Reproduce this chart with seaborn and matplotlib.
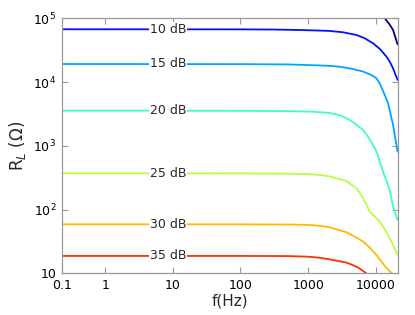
import matplotlib
matplotlib.use('Agg')
import matplotlib.pyplot as plt
import seaborn as sns

# contour levels (dB) and the curves: f (Hz) -> R_L (ohm)
levels = [5, 10, 15, 20, 25, 30, 35]

f05 = [12500, 13600, 16000, 18000, 21000]
r05 = [1.15e5, 1.0e5, 8.0e4, 6.56e4, 3.9e4]

f10 = [0.1, 100, 300, 750, 2000, 3280, 5180, 6870, 9120, 11500, 14400, 16100, 18000, 21000]
r10 = [67300, 67000, 66600, 65500, 63500, 60300, 54700, 48600, 40500, 33000, 25000, 20900, 16400, 10800]

f15 = [0.1, 100, 500, 1000, 2000, 2930, 4610, 6490, 8630, 10200, 11400, 13000, 15200, 18000, 21000]
r15 = [19200, 19100, 18900, 18500, 18000, 17400, 16000, 14600, 12900, 11500, 9600, 7000, 4650, 2130, 810]

f20 = [0.1, 100, 500, 1180, 2080, 3000, 3680, 4890, 6490, 7690, 9120, 10350, 12100, 14600, 16100, 17900, 21000]
r20 = [3560, 3540, 3500, 3430, 3280, 3000, 2710, 2260, 1770, 1390, 1030, 800, 467, 272, 204, 114, 69]

f25 = [0.1, 100, 500, 1000, 1500, 2080, 3680, 5180, 6140, 7280, 8150, 9670, 11500, 13600, 16100, 18300, 21000]
r25 = [372, 370, 366, 360, 350, 332, 280, 216, 166, 119, 93, 78, 65, 49, 35.6, 26.7, 19.5]

f30 = [0.1, 100, 500, 1000, 1480, 2080, 3680, 4890, 6490, 8150, 10200, 14500, 17400, 18000]
r30 = [59, 58.8, 58.4, 57.6, 55.8, 52.8, 44.2, 37.8, 31.6, 25.4, 19.5, 12, 10, 9.3]

f35 = [0.1, 100, 500, 1000, 1480, 2080, 3680, 5180, 6140, 7280, 7800]
r35 = [18.8, 18.8, 18.7, 18.3, 17.6, 16.6, 14.8, 12.8, 11.4, 10, 9.4]

curves = [(f05, r05), (f10, r10), (f15, r15), (f20, r20),
          (f25, r25), (f30, r30), (f35, r35)]

xticks = [0.229, 1, 10, 100, 1000, 10000]
xticklabels = ['0.1', '1', '10', '100', '1000', '10000']
yticks = [10, 100, 1e3, 1e4, 1e5]
yticklabels = ['10', '$10^2$', '$10^3$', '$10^4$', '$10^5$']

label_f = 8.5


def main():
    sns.set_style('white')
    plt.rcParams['font.family'] = ['DejaVu Sans']
    plt.rcParams['mathtext.fontset'] = 'dejavusans'

    fig = plt.figure(figsize=(4.15, 3.15), dpi=100)
    ax = fig.add_axes([0.149, 0.132, 0.809, 0.810])

    cmap = matplotlib.colormaps['jet']
    for i, (lev, (f, r)) in enumerate(zip(levels, curves)):
        col = cmap(i / 7)
        sns.lineplot(x=f, y=r, color=col, lw=1.3, ax=ax, sort=False)
        if lev > 5:
            ax.text(label_f, r[0], '%d dB' % lev, fontsize=9, ha='center',
                    va='center', zorder=5,
                    bbox=dict(facecolor='white', edgecolor='none', pad=0.3))

    ax.set_xscale('log')
    ax.set_yscale('log')
    ax.set_xlim(0.229, 21000)
    ax.set_ylim(10, 1e5)
    ax.set_xticks(xticks)
    ax.set_xticklabels(xticklabels)
    ax.set_yticks(yticks)
    ax.set_yticklabels(yticklabels)
    ax.minorticks_off()
    ax.tick_params(direction='in', length=4, width=0.8, colors='#999999',
                   labelcolor='black', labelsize=9, top=True, right=True,
                   left=True, bottom=True, pad=4)
    for s in ax.spines.values():
        s.set_color('#999999')
        s.set_linewidth(0.9)

    ax.set_xlabel('f(Hz)', fontsize=11, labelpad=1)
    ax.set_ylabel('R$_L$ ($\\Omega$)', fontsize=12, labelpad=4)

    fig.savefig('out.png', dpi=100)
    plt.close(fig)


if __name__ == '__main__':
    main()
